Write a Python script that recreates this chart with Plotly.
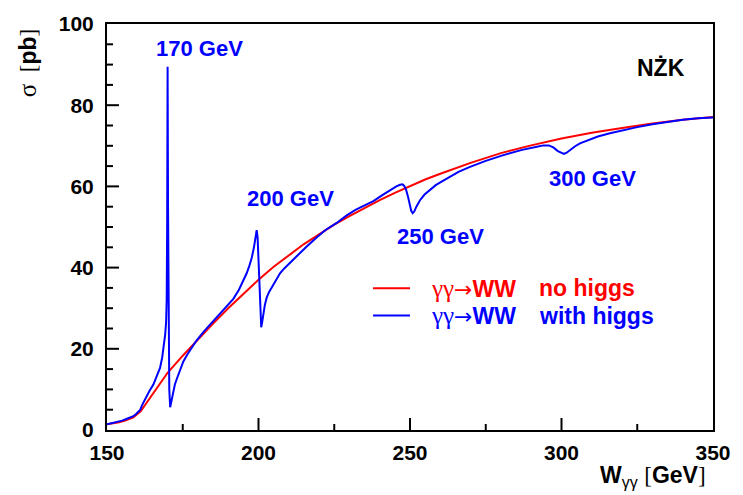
import plotly.graph_objects as go

# Cross section of gamma gamma -> WW without a Higgs boson [pb]
w_nohiggs = [150, 152, 154, 156, 158.7, 161.1, 163, 165, 167.5, 170, 175, 180, 185, 190,
             195, 200, 205, 210, 215, 220, 225, 230, 235, 240, 245, 250, 255, 260, 270,
             280, 290, 300, 310, 320, 330, 340, 350]
sigma_nohiggs = [1.4, 1.6, 1.9, 2.3, 3.1, 4.6, 6.7, 8.9, 11.5, 14.1, 18.3, 22.3, 26.2, 30.0,
                 33.6, 37.0, 40.2, 43.1, 45.8, 48.2, 50.6, 52.7, 54.7, 56.6, 58.4, 60.1,
                 61.7, 63.1, 65.8, 68.2, 70.1, 71.8, 73.2, 74.4, 75.5, 76.4, 77.1]

# Same process including the Higgs resonance (mH = 170, 200, 250, 300 GeV)
w_higgs = [150, 153, 155, 157, 158.7, 159.5, 160, 160.5, 161, 161.5, 162, 163, 164, 165.3,
           166.5, 167.5, 168.2, 168.8, 169.2, 169.5, 169.7, 169.85, 170.0, 170.15, 170.35,
           170.55, 170.85, 171.1, 171.5, 172, 172.4, 173, 174, 175.2, 176.5, 178, 179.6,
           182, 185, 188, 191.7, 193.5, 195, 196.1, 197, 197.8, 198.5, 199.0, 199.4,
           199.7, 200.0, 200.3, 200.6, 200.9, 201.2, 201.6, 202.1, 202.7, 203.5, 204.9,
           206, 207.1, 208.5, 210.4, 213, 215.9, 219, 222, 225.8, 229, 232, 235,
           237.9, 241, 243.5, 245.5, 246.7, 247.5, 248.1, 248.7, 249.3, 249.9, 250.4,
           250.9, 251.4, 252.1, 253.3, 254.8, 256.6, 258.5, 260, 263, 266, 269.8, 275,
           280.8, 287, 291.5, 294, 295.8, 297.3, 298.8, 300.2, 300.8, 301.7, 303, 304.5,
           306.1, 309, 312, 316, 320, 325, 330, 335, 340, 345, 350]
sigma_higgs = [1.4, 1.9, 2.3, 2.9, 3.4, 3.9, 4.3, 4.6, 5.0, 6.0, 6.8, 8.2, 9.6, 11.2,
               13.3, 15.3, 17.8, 20.9, 23.5, 26.5, 32.0, 50.0, 89.5, 55.0, 25.0,
               10.0, 5.6, 6.6, 8.2, 9.9, 11.2, 12.5, 14.6, 16.9, 18.6, 20.4, 22.1,
               24.3, 26.8, 29.3, 32.3, 34.5, 36.8, 38.6, 40.5, 42.5, 45.0, 47.5, 49.2,
               47.5, 42.5, 37.3, 30.5, 25.3, 26.5, 28.6, 30.8, 32.6, 34.0, 35.8,
               37.4, 38.6, 39.8, 41.2, 43.3, 45.2, 47.3, 49.2, 51.0, 52.8, 54.2, 55.4,
               56.4, 57.9, 59.1, 60.0, 60.4, 60.5, 60.1, 59.2, 57.6, 55.5, 54.0,
               53.4, 53.8, 55.0, 56.6, 58.0, 59.2, 60.3, 61.0, 62.4, 63.6, 64.8, 66.3,
               67.7, 69.0, 69.7, 70.1, 70.1, 69.6, 68.7, 68.1, 68.0, 68.3, 69.1, 69.9,
               70.6, 71.5, 72.3, 73.1, 73.8, 74.6, 75.3, 75.9, 76.4, 76.8, 77.0]

# Higgs mass labels: text, x [GeV], y [pb]
mass_labels = ["170 GeV", "200 GeV", "250 GeV", "300 GeV"]
mass_label_x = [180.4, 210.4, 260.2, 310.1]
mass_label_y = [94.0, 57.1, 47.7, 61.9]

X_RANGE = (150, 350)
Y_RANGE = (0, 100)
X_MAJOR, X_MINOR = 50, 25
Y_MAJOR, Y_MINOR = 20, 5

RED = "#ff0000"
BLUE = "#0000ff"
SANS = "Liberation Sans, Arial, sans-serif"
SERIF = "Liberation Serif, Times New Roman, serif"
ARROWFONT = "DejaVu Sans"

fig = go.Figure()
fig.add_trace(go.Scatter(x=w_nohiggs, y=sigma_nohiggs, mode="lines",
                         line=dict(color=RED, width=2), showlegend=False))
fig.add_trace(go.Scatter(x=w_higgs, y=sigma_higgs, mode="lines",
                         line=dict(color=BLUE, width=2), showlegend=False))

for txt, x, y in zip(mass_labels, mass_label_x, mass_label_y):
    fig.add_annotation(x=x, y=y, xref="x", yref="y", text=f"<b>{txt}</b>",
                       showarrow=False, font=dict(family=SANS, size=22, color=BLUE))

fig.add_annotation(x=332.8, y=89.2, xref="x", yref="y", text="<b>NŻK</b>",
                   showarrow=False, font=dict(family=SANS, size=23, color="black"))

# hand-made legend
gg_arrow = (f'<span style="font-family:{SERIF};font-size:25px">γγ</span>'
            f'<span style="font-family:{ARROWFONT};font-size:22px">→</span>')
legend_rows = [("no higgs", RED, 0.349), ("with higgs", BLUE, 0.282)]
for label, col, yy in legend_rows:
    fig.add_shape(type="line", xref="paper", yref="paper", x0=0.439, x1=0.5,
                  y0=yy, y1=yy, line=dict(color=col, width=2))
    fig.add_annotation(x=0.531, y=yy, xref="paper", yref="paper", xanchor="left",
                       yanchor="middle", showarrow=False,
                       text=f"{gg_arrow}<b>WW</b>",
                       font=dict(family=SANS, size=23, color=col))
    fig.add_annotation(x=0.7096, y=yy, xref="paper", yref="paper", xanchor="left",
                       yanchor="middle", showarrow=False, text=f"<b>{label}</b>",
                       font=dict(family=SANS, size=23, color=col))

# axis titles
fig.add_annotation(x=0.9917, y=-0.115, xref="paper", yref="paper", xanchor="right",
                   yanchor="middle", showarrow=False,
                   text=f'<b>W</b><sub>γγ</sub> <span style="font-family:{SERIF}">[</span>'
                        f'<b>GeV</b><span style="font-family:{SERIF}">]</span>',
                   font=dict(family=SANS, size=23, color="black"))
fig.add_annotation(x=-0.13, y=0.904, xref="paper", yref="paper", xanchor="center",
                   yanchor="middle", showarrow=False, textangle=-90,
                   text=f'<span style="font-family:{SERIF};font-size:25px">σ</span>'
                        f'<span style="font-family:{SERIF}">  [</span>'
                        f'<b>pb</b><span style="font-family:{SERIF}">]</span>',
                   font=dict(family=SANS, size=23, color="black"))

# inward tick marks along the bottom and left frame (major 12 px, minor 6 px)
tick_line = dict(color="black", width=2)
for v in range(X_RANGE[0] + X_MINOR, X_RANGE[1], X_MINOR):
    ln = 12 if (v - X_RANGE[0]) % X_MAJOR == 0 else 6
    fig.add_shape(type="line", xref="x", yref="paper", ysizemode="pixel", yanchor=0,
                  x0=v, x1=v, y0=0, y1=ln, line=tick_line)
for v in range(Y_RANGE[0] + Y_MINOR, Y_RANGE[1], Y_MINOR):
    ln = 12 if (v - Y_RANGE[0]) % Y_MAJOR == 0 else 6
    fig.add_shape(type="line", xref="paper", yref="y", xsizemode="pixel", xanchor=0,
                  x0=0, x1=ln, y0=v, y1=v, line=tick_line)

axis_common = dict(showgrid=False, zeroline=False, showline=True, linecolor="black",
                   linewidth=2, mirror=True, ticks="",
                   tickfont=dict(family=SANS, size=21, color="black", weight="bold"))

fig.update_xaxes(range=list(X_RANGE), tick0=X_RANGE[0], dtick=X_MAJOR,
                 ticklabelstandoff=3, **axis_common)
fig.update_yaxes(range=list(Y_RANGE), tick0=Y_RANGE[0], dtick=Y_MAJOR,
                 ticklabelstandoff=7, **axis_common)

fig.update_layout(width=743, height=495, margin=dict(l=107, r=30, t=15, b=65),
                  plot_bgcolor="white", paper_bgcolor="white")

fig.write_html("out.html")
